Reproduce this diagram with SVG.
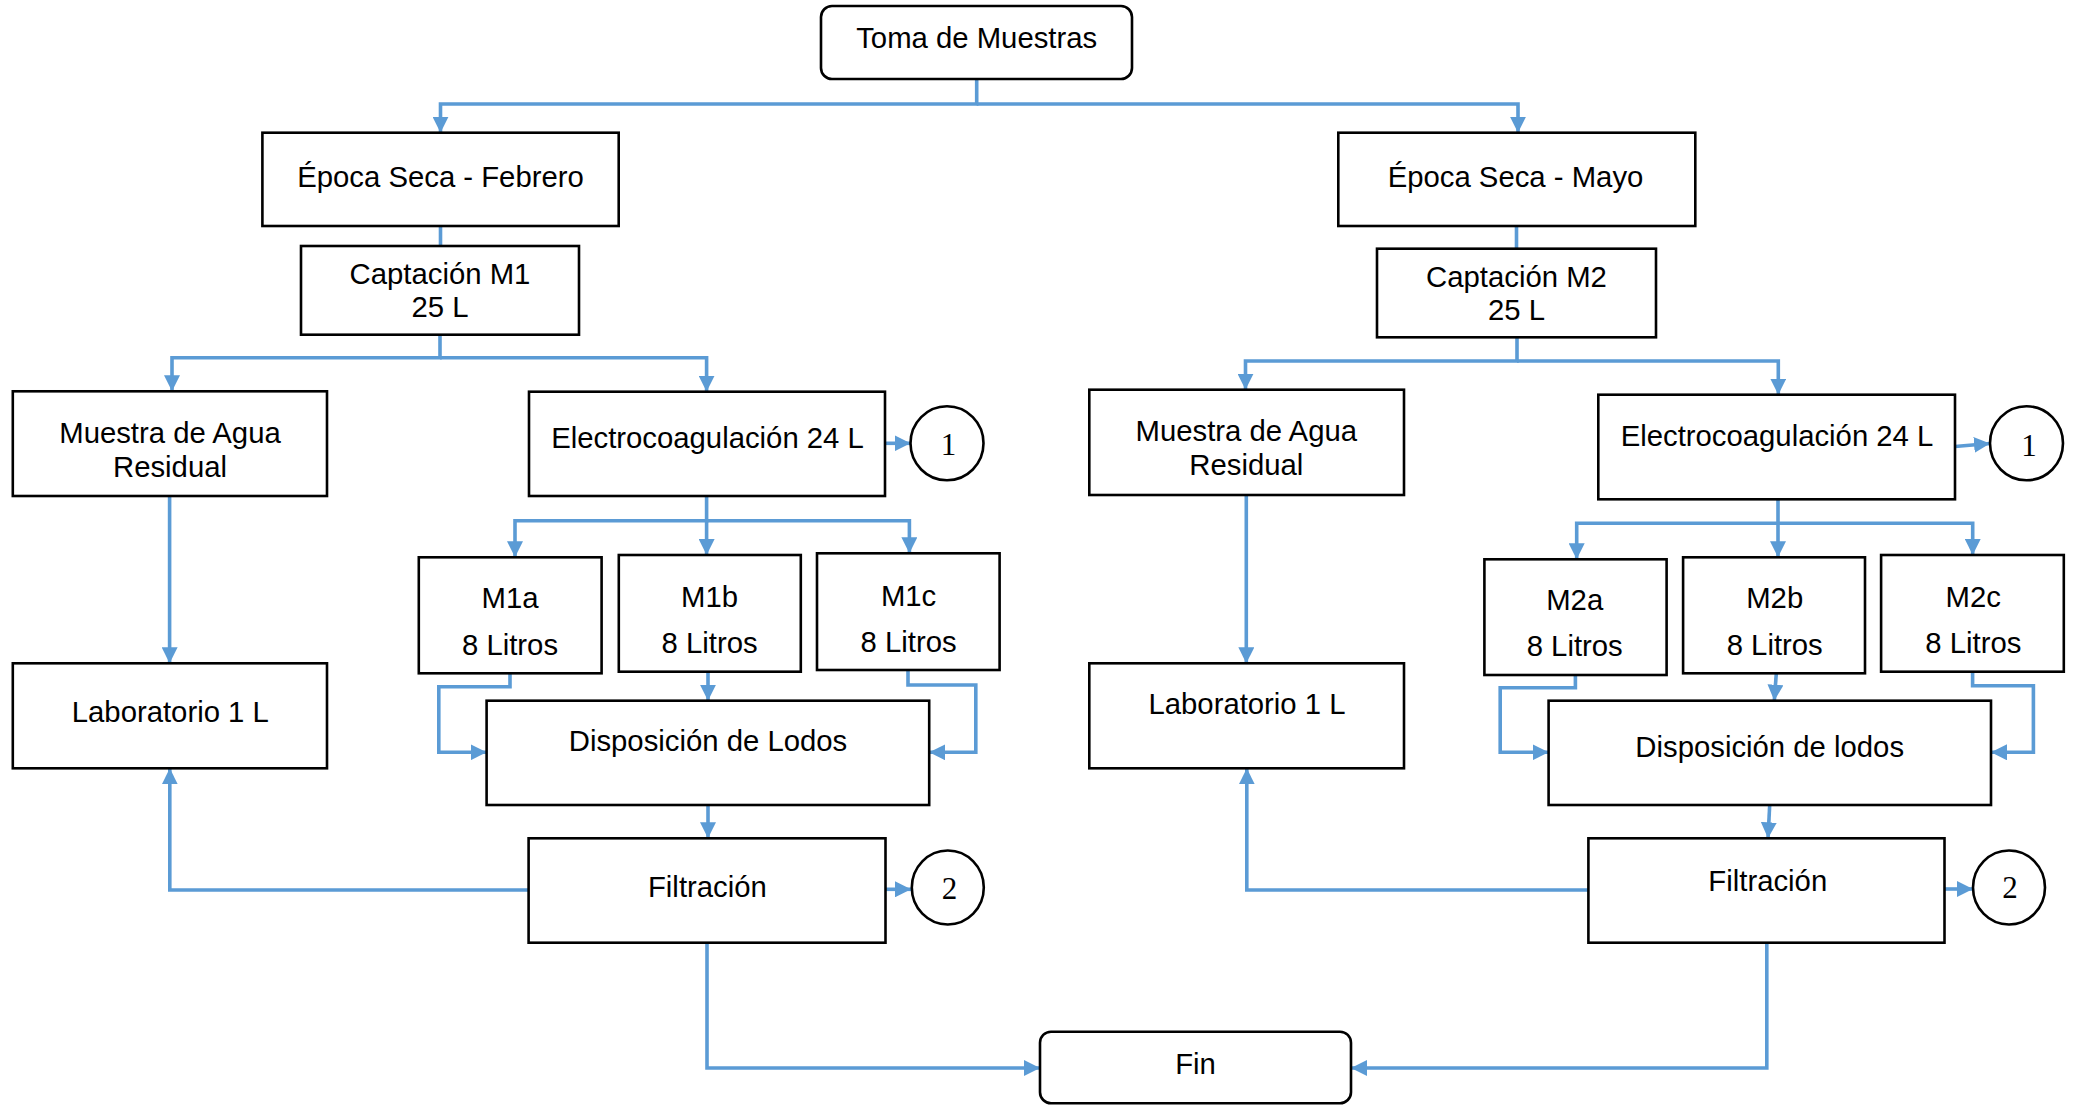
<svg xmlns="http://www.w3.org/2000/svg" width="2076" height="1105" viewBox="0 0 2076 1105">
<style>
.box{fill:#fff;stroke:#000;stroke-width:2.6}
.t{font-family:"Liberation Sans",Arial,sans-serif;font-size:29.3px;fill:#000;text-anchor:middle}
.n{font-family:"Liberation Serif","Times New Roman",serif;font-size:31px;fill:#000;text-anchor:middle}
.c{fill:none;stroke:#5B9BD5;stroke-width:3.6;stroke-linejoin:miter}
.a{marker-end:url(#ah)}
</style>
<defs>
<marker id="ah" markerUnits="userSpaceOnUse" markerWidth="16" markerHeight="16" refX="15" refY="7.5" orient="auto" viewBox="0 0 15 15">
<path d="M0,0 L15,7.5 L0,15 z" fill="#5B9BD5"/>
</marker>
</defs>
<rect width="2076" height="1105" fill="#fff"/>
<g id="connectors">
<path class="c a" d="M976.7,79 V104 H440.5 V132.7"/>
<path class="c a" d="M976.7,104 H1518 V132.7"/>
<path class="c" d="M440.5,226 V246"/>
<path class="c a" d="M440,334.7 V357.7 H172 V391.3"/>
<path class="c a" d="M440,357.7 H706.6 V391.7"/>
<path class="c a" d="M885.5,443.3 H910.5"/>
<path class="c a" d="M706.6,496 V520.7 H515 V557.3"/>
<path class="c a" d="M706.6,520.7 V555"/>
<path class="c a" d="M706.6,520.7 H909.4 V553.3"/>
<path class="c a" d="M169.6,496 V663.3"/>
<path class="c a" d="M510,673.3 V686.7 H438.8 V752.3 H486.6"/>
<path class="c a" d="M708,671.7 V700.7"/>
<path class="c a" d="M908,670 V685 H975.8 V752.3 H929.2"/>
<path class="c a" d="M708,805 V838.3"/>
<path class="c a" d="M528.6,890 H169.8 V768.3"/>
<path class="c a" d="M885.5,889.3 H911"/>
<path class="c a" d="M707,942.7 V1068 H1040"/>
<path class="c" d="M1516.5,226 V248.7"/>
<path class="c a" d="M1517,337.3 V361 H1245.5 V389.7"/>
<path class="c a" d="M1517,361 H1778.3 V394.7"/>
<path class="c a" d="M1955,446.5 L1990,443.5"/>
<path class="c a" d="M1778,499.3 V523.3 H1576.7 V559.3"/>
<path class="c a" d="M1778,523.3 V557.3"/>
<path class="c a" d="M1778,523.3 H1972.7 V555"/>
<path class="c a" d="M1246.3,495 V663.3"/>
<path class="c a" d="M1575.4,675 V687.7 H1500.2 V752.3 H1548.6"/>
<path class="c a" d="M1776.3,673.3 L1774.3,700.7"/>
<path class="c a" d="M1972.6,671.7 V685.7 H2033.4 V752.3 H1991"/>
<path class="c a" d="M1769.7,805 L1768,838.3"/>
<path class="c a" d="M1588.4,890 H1246.8 V768.3"/>
<path class="c a" d="M1944.5,889 H1973"/>
<path class="c a" d="M1766.8,942.7 V1068 H1351"/>
</g>
<g id="toma"><rect class="box" x="821" y="6" width="311" height="73" rx="11"/><text class="t" x="976.7" y="48">Toma de Muestras</text></g>
<g id="epoca-febrero"><rect class="box" x="262.4" y="132.7" width="356.3" height="93.3"/><text class="t" x="440.5" y="187">Época Seca - Febrero</text></g>
<g id="epoca-mayo"><rect class="box" x="1338.3" y="132.7" width="357" height="93.3"/><text class="t" x="1515.5" y="187">Época Seca - Mayo</text></g>
<g id="captacion-m1"><rect class="box" x="301" y="246" width="278" height="88.7"/><text class="t" x="440" y="284">Captación M1</text><text class="t" x="440" y="317">25 L</text></g>
<g id="captacion-m2"><rect class="box" x="1377" y="248.7" width="279" height="88.6"/><text class="t" x="1516.5" y="287">Captación M2</text><text class="t" x="1516.5" y="320">25 L</text></g>
<g id="muestra-1"><rect class="box" x="12.8" y="391.3" width="314.2" height="104.7"/><text class="t" x="170" y="443">Muestra de Agua</text><text class="t" x="170" y="477">Residual</text></g>
<g id="electro-1"><rect class="box" x="529" y="391.7" width="356" height="104.3"/><text class="t" x="707.5" y="448">Electrocoagulación 24 L</text></g>
<g id="circle-1a"><ellipse cx="947" cy="443.3" rx="36.5" ry="37" fill="#fff" stroke="#000" stroke-width="2.6"/><text class="n" x="948.5" y="455">1</text></g>
<g id="muestra-2"><rect class="box" x="1089.3" y="389.7" width="314.7" height="105.3"/><text class="t" x="1246.3" y="441">Muestra de Agua</text><text class="t" x="1246.3" y="475">Residual</text></g>
<g id="electro-2"><rect class="box" x="1598.3" y="394.7" width="356.7" height="104.6"/><text class="t" x="1777" y="446">Electrocoagulación 24 L</text></g>
<g id="circle-1b"><ellipse cx="2026.5" cy="443.3" rx="36.5" ry="37" fill="#fff" stroke="#000" stroke-width="2.6"/><text class="n" x="2029" y="456">1</text></g>
<g id="m1a"><rect class="box" x="418.8" y="557.3" width="182.8" height="116"/><text class="t" x="510" y="608">M1a</text><text class="t" x="510" y="655">8 Litros</text></g>
<g id="m1b"><rect class="box" x="618.8" y="555" width="182" height="116.7"/><text class="t" x="709.6" y="606.5">M1b</text><text class="t" x="709.6" y="653.3">8 Litros</text></g>
<g id="m1c"><rect class="box" x="817" y="553.3" width="182.6" height="116.7"/><text class="t" x="908.6" y="606">M1c</text><text class="t" x="908.6" y="651.7">8 Litros</text></g>
<g id="m2a"><rect class="box" x="1484.4" y="559.3" width="182.2" height="115.7"/><text class="t" x="1574.7" y="610">M2a</text><text class="t" x="1574.7" y="656">8 Litros</text></g>
<g id="m2b"><rect class="box" x="1683.1" y="557.3" width="181.9" height="116"/><text class="t" x="1774.7" y="608.3">M2b</text><text class="t" x="1774.7" y="655">8 Litros</text></g>
<g id="m2c"><rect class="box" x="1881.1" y="555" width="182.7" height="116.7"/><text class="t" x="1973.3" y="606.7">M2c</text><text class="t" x="1973.3" y="652.7">8 Litros</text></g>
<g id="lab-1"><rect class="box" x="12.8" y="663.3" width="314.2" height="105"/><text class="t" x="170.3" y="722">Laboratorio 1 L</text></g>
<g id="lab-2"><rect class="box" x="1089.3" y="663.3" width="314.7" height="105"/><text class="t" x="1247" y="713.5">Laboratorio 1 L</text></g>
<g id="disp-1"><rect class="box" x="486.6" y="700.7" width="442.6" height="104.3"/><text class="t" x="708" y="751">Disposición de Lodos</text></g>
<g id="disp-2"><rect class="box" x="1548.6" y="700.7" width="442.4" height="104.3"/><text class="t" x="1769.7" y="757">Disposición de lodos</text></g>
<g id="filtracion-1"><rect class="box" x="528.6" y="838.3" width="356.9" height="104.4"/><text class="t" x="707.4" y="897">Filtración</text></g>
<g id="circle-2a"><ellipse cx="947.8" cy="887.5" rx="36" ry="37" fill="#fff" stroke="#000" stroke-width="2.6"/><text class="n" x="949.5" y="899">2</text></g>
<g id="filtracion-2"><rect class="box" x="1588.4" y="838.3" width="356.1" height="104.4"/><text class="t" x="1767.8" y="891">Filtración</text></g>
<g id="circle-2b"><ellipse cx="2009" cy="887.5" rx="36" ry="37" fill="#fff" stroke="#000" stroke-width="2.6"/><text class="n" x="2010" y="898">2</text></g>
<g id="fin"><rect class="box" x="1040" y="1031.7" width="311" height="71.5" rx="11"/><text class="t" x="1195.5" y="1074">Fin</text></g>
</svg>
